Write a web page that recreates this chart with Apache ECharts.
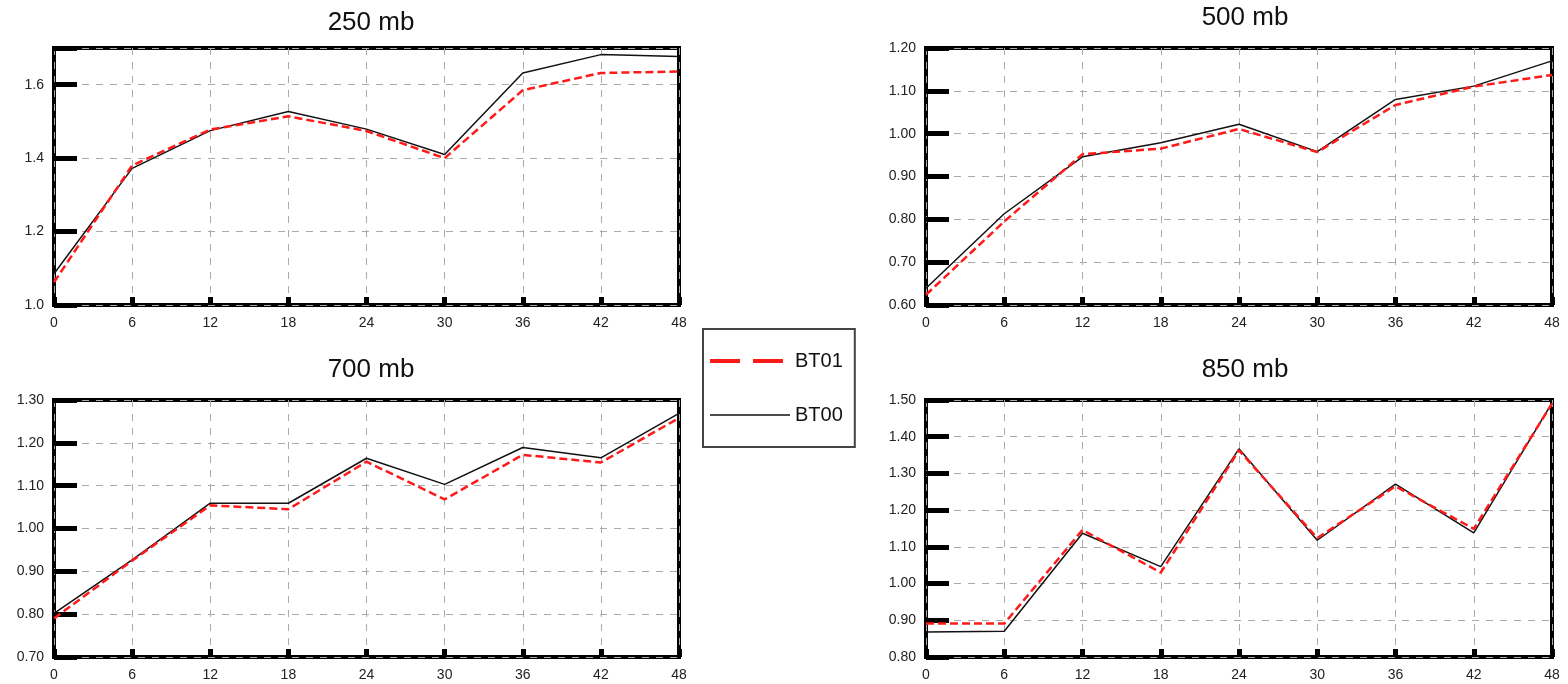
<!DOCTYPE html>
<html>
<head>
<meta charset="utf-8">
<script src="https://cdn.jsdelivr.net/npm/echarts@6/dist/echarts.min.js"></script>
<style>
html,body{margin:0;padding:0;background:#fff;}
#c{width:1568px;height:684px;}
</style>
</head>
<body>
<div id="c"></div>
<script>
// ---- data ----
const hours = [0, 6, 12, 18, 24, 30, 36, 42, 48];
const panelTitles = ['250 mb', '500 mb', '700 mb', '850 mb'];
const seriesNames = ['BT01', 'BT00'];

const bt00_250 = [1.085, 1.372, 1.475, 1.527, 1.479, 1.410, 1.632, 1.682, 1.677];
const bt01_250 = [1.062, 1.380, 1.478, 1.514, 1.474, 1.400, 1.585, 1.632, 1.636];

const bt00_500 = [0.639, 0.813, 0.946, 0.979, 1.022, 0.958, 1.080, 1.111, 1.170];
const bt01_500 = [0.624, 0.795, 0.952, 0.965, 1.011, 0.957, 1.067, 1.110, 1.137];

const bt00_700 = [0.802, 0.927, 1.059, 1.059, 1.164, 1.103, 1.189, 1.165, 1.269];
const bt01_700 = [0.790, 0.925, 1.054, 1.045, 1.156, 1.068, 1.172, 1.154, 1.258];

const bt00_850 = [0.868, 0.870, 1.137, 1.046, 1.367, 1.118, 1.271, 1.138, 1.492];
const bt01_850 = [0.891, 0.891, 1.146, 1.030, 1.363, 1.124, 1.265, 1.149, 1.490];

const yMin = [1.0, 0.6, 0.7, 0.8];
const yMax = [1.7, 1.2, 1.3, 1.5];
const yStep = [0.2, 0.1, 0.1, 0.1];
const yDecimals = [1, 2, 2, 2];

const bt00 = [bt00_250, bt00_500, bt00_700, bt00_850];
const bt01 = [bt01_250, bt01_500, bt01_700, bt01_850];

// ---- layout ----
const grids = [
  {left: 54, top: 48, width: 625, height: 257},
  {left: 926, top: 48, width: 626, height: 257},
  {left: 54, top: 400, width: 625, height: 257},
  {left: 926, top: 400, width: 626, height: 257}
];
const titlePos = [
  {x: 366, y: 5}, {x: 1240, y: 0}, {x: 366, y: 352}, {x: 1240, y: 352}
];

const FONT = '"Liberation Sans", Arial, Helvetica, sans-serif';
const RED = '#ff1a1a';
const BLACK = '#111111';

const pair = (ys) => hours.map((h, i) => [h, ys[i]]);

const option = {
  animation: false,
  backgroundColor: '#ffffff',
  title: panelTitles.map((t, i) => ({
    text: t,
    left: titlePos[i].x,
    top: titlePos[i].y,
    textAlign: 'center',
    textStyle: {fontFamily: FONT, fontSize: 26, fontWeight: 'normal', color: '#111'}
  })),
  legend: {
    show: true,
    left: 703,
    top: 329,
    orient: 'vertical',
    padding: [22, 12, 22, 5],
    itemGap: 34,
    itemWidth: 80,
    itemHeight: 14,
    borderColor: '#444',
    borderWidth: 2,
    itemStyle: {opacity: 0},
    textStyle: {fontFamily: FONT, fontSize: 20, color: '#111'},
    data: [
      {name: 'BT01', lineStyle: {color: RED, width: 4, type: [30, 13]}},
      {name: 'BT00', lineStyle: {color: BLACK, width: 1.5}}
    ]
  },
  grid: grids.map(g => Object.assign({}, g, {
    show: true, borderColor: '#000', borderWidth: 4, backgroundColor: 'transparent'
  })),
  xAxis: grids.map((g, i) => ({
    type: 'value',
    gridIndex: i,
    min: 0, max: 48, interval: 6,
    axisLine: {show: false},
    axisTick: {show: true, inside: true, length: 8, lineStyle: {color: '#000', width: 5}},
    axisLabel: {margin: 11, fontFamily: FONT, fontSize: 14, color: '#222'},
    splitLine: {show: true, lineStyle: {color: '#aaaaaa', width: 1, type: [7, 7]}}
  })),
  yAxis: grids.map((g, i) => ({
    type: 'value',
    gridIndex: i,
    min: yMin[i], max: yMax[i], interval: yStep[i],
    axisLine: {show: false},
    axisTick: {show: true, inside: true, length: 23, lineStyle: {color: '#000', width: 5}},
    axisLabel: {
      margin: 10, fontFamily: FONT, fontSize: 14, color: '#222',
      formatter: function (v) {
        const k = Math.round((v - yMin[i]) / yStep[i] * 1000) / 1000;
        if (Math.abs(k - Math.round(k)) > 1e-6) return '';
        return v.toFixed(yDecimals[i]);
      }
    },
    splitLine: {show: true, lineStyle: {color: '#aaaaaa', width: 1, type: [7, 7]}}
  })),
  series: []
};

for (let i = 0; i < 4; i++) {
  option.series.push({
    name: 'BT00', type: 'line', xAxisIndex: i, yAxisIndex: i,
    data: pair(bt00[i]), symbol: 'none', z: 3,
    lineStyle: {color: BLACK, width: 1.5, type: 'solid'},
    itemStyle: {color: BLACK}
  });
  option.series.push({
    name: 'BT01', type: 'line', xAxisIndex: i, yAxisIndex: i,
    data: pair(bt01[i]), symbol: 'none', z: 4,
    lineStyle: {color: RED, width: 2.5, type: [8, 4]},
    itemStyle: {color: RED}
  });
}

const chart = echarts.init(document.getElementById('c'), null, {renderer: 'canvas'});
chart.setOption(option);
</script>
</body>
</html>
